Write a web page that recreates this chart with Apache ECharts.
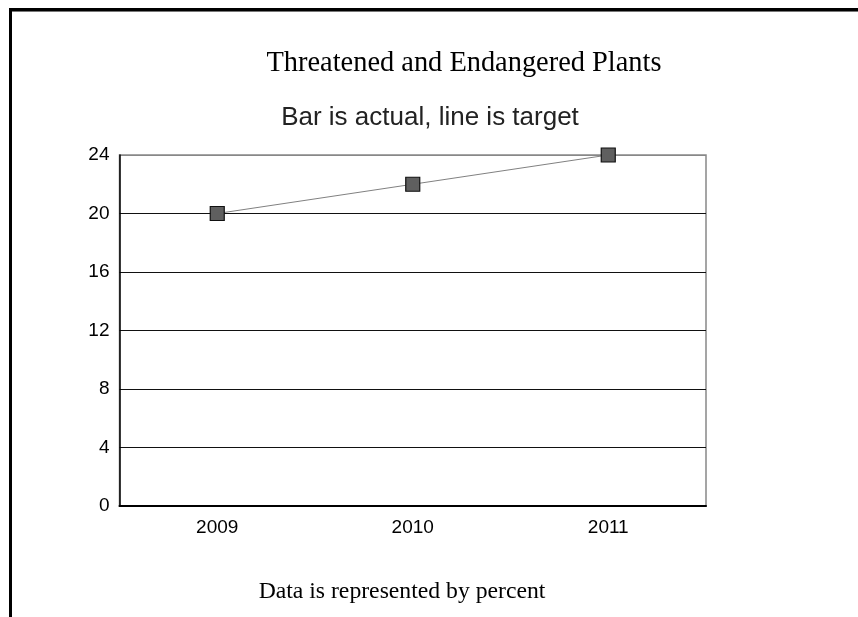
<!DOCTYPE html>
<html>
<head>
<meta charset="utf-8">
<script src="https://cdn.jsdelivr.net/npm/echarts@6/dist/echarts.min.js"></script>
<style>
  html, body { margin: 0; padding: 0; background: #fff; }
  #chart { width: 858px; height: 617px; }
</style>
</head>
<body>
<div id="chart"></div>
<script>
// Years on the category axis
const years = ['2009', '2010', '2011'];
// Target values (line)
const target = [20, 22, 24];
// Value axis range
const yMin = 0;
const yMax = 24;
const yStep = 4;

const chart = echarts.init(document.getElementById('chart'), null, { renderer: 'canvas' });

// one colour per split line, bottom to top; the top edge is lighter
const splitColors = ['#000', '#111', '#111', '#111', '#111', '#111', '#888'];

chart.setOption({
  animation: false,
  backgroundColor: '#fff',
  grid: {
    left: 119.5, top: 155, right: 152, bottom: 111,
    show: true, borderColor: '#888', borderWidth: 1.5, backgroundColor: 'transparent'
  },
  xAxis: {
    type: 'category',
    data: years,
    boundaryGap: true,
    axisLine: { show: true, lineStyle: { color: '#000', width: 2 } },
    axisTick: { show: false },
    axisLabel: { color: '#000', fontFamily: 'Liberation Sans, Arial', fontSize: 19, margin: 12 }
  },
  yAxis: {
    type: 'value',
    min: yMin, max: yMax, interval: yStep,
    axisLine: { show: true, lineStyle: { color: '#000', width: 1.5 } },
    axisTick: { show: false },
    axisLabel: { color: '#000', fontFamily: 'Liberation Sans, Arial', fontSize: 19, margin: 10 },
    splitLine: { show: true, lineStyle: { color: splitColors, width: 1.2 } }
  },
  series: [{
    name: 'Target',
    type: 'line',
    data: target,
    symbol: 'rect',
    symbolSize: 14,
    lineStyle: { color: '#808080', width: 1 },
    itemStyle: { color: '#5f5f5f', borderColor: '#111', borderWidth: 1.2 },
    z: 5
  }],
  graphic: [
    // page frame: top and left edges
    { type: 'rect', shape: { x: 9, y: 8, width: 849, height: 3 }, style: { fill: '#000' } },
    { type: 'rect', shape: { x: 9, y: 11, width: 849, height: 1 }, style: { fill: '#777' } },
    { type: 'rect', shape: { x: 9, y: 8, width: 3, height: 609 }, style: { fill: '#000' } },
    {
      type: 'text', x: 464, y: 64,
      style: {
        text: 'Threatened and Endangered Plants', fill: '#000',
        font: '28.4px "Liberation Serif", "Times New Roman", serif',
        textAlign: 'center', textVerticalAlign: 'middle'
      }
    },
    {
      type: 'text', x: 430, y: 118,
      style: {
        text: 'Bar is actual, line is target', fill: '#222',
        font: '26px "Liberation Sans", Arial, sans-serif',
        textAlign: 'center', textVerticalAlign: 'middle'
      }
    },
    {
      type: 'text', x: 402, y: 592,
      style: {
        text: 'Data is represented by percent', fill: '#000',
        font: '23.7px "Liberation Serif", "Times New Roman", serif',
        textAlign: 'center', textVerticalAlign: 'middle'
      }
    }
  ]
});
</script>
</body>
</html>
